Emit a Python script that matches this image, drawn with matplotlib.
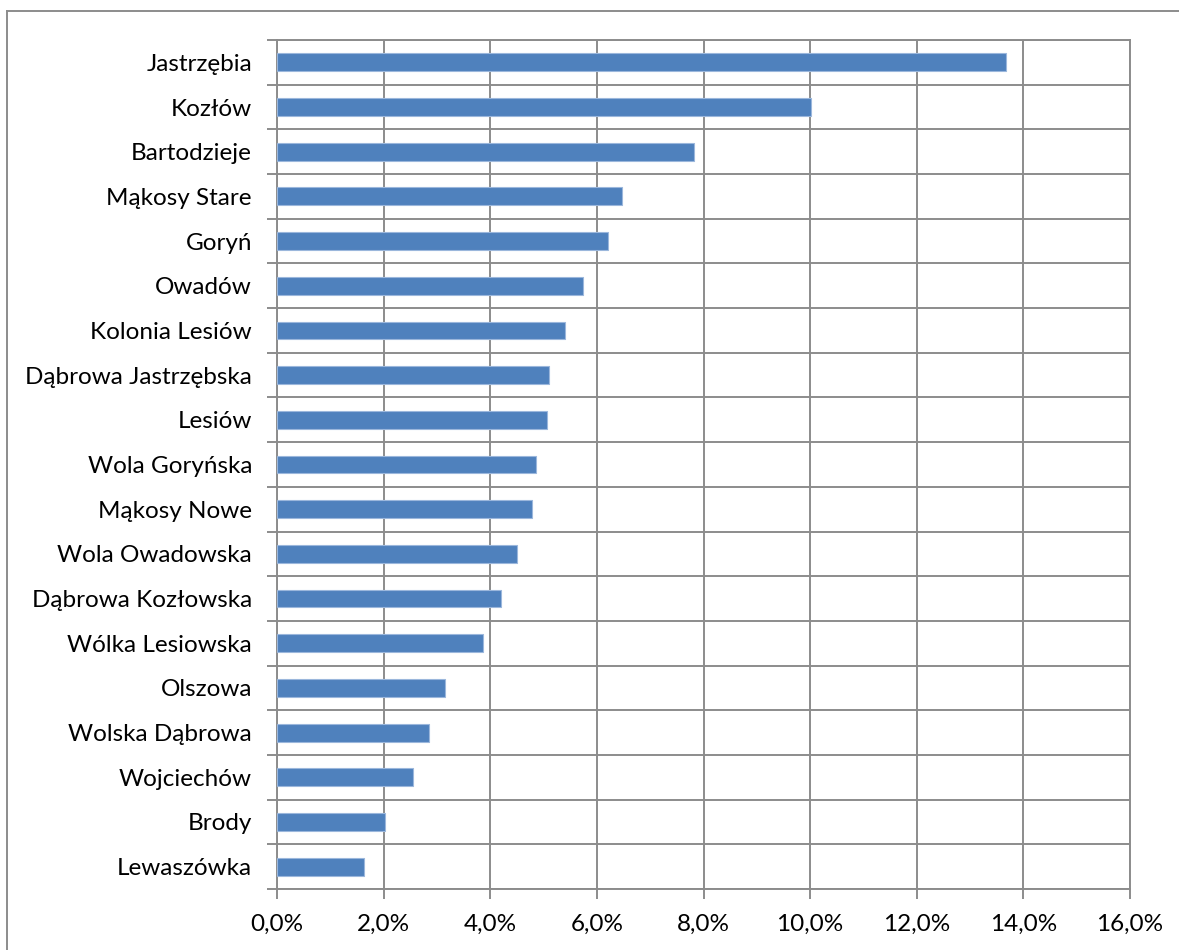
import matplotlib
matplotlib.use("Agg")
import matplotlib.pyplot as plt
from matplotlib.lines import Line2D
from matplotlib.ticker import FuncFormatter, MultipleLocator

# villages, top to bottom, and their share in percent
villages = ["Jastrzębia", "Kozłów", "Bartodzieje", "Mąkosy Stare", "Goryń", "Owadów",
            "Kolonia Lesiów", "Dąbrowa Jastrzębska", "Lesiów", "Wola Goryńska", "Mąkosy Nowe",
            "Wola Owadowska", "Dąbrowa Kozłowska", "Wólka Lesiowska", "Olszowa",
            "Wolska Dąbrowa", "Wojciechów", "Brody", "Lewaszówka"]
share = [13.68, 10.01, 7.83, 6.47, 6.21, 5.74, 5.41, 5.11, 5.06, 4.86, 4.79,
         4.51, 4.21, 3.86, 3.16, 2.86, 2.56, 2.03, 1.63]

BLUE = "#4f81bd"
GRID = "#8c8c8c"

plt.rcParams["font.family"] = ["Lato", "DejaVu Sans"]

fig = plt.figure(figsize=(11.79, 9.5), dpi=100)
ax = fig.add_axes([277 / 1179, 1 - 889 / 950, (1130 - 277) / 1179, (889 - 40) / 950])

ypos = list(range(len(villages)))[::-1]
ax.barh(ypos, share, height=0.4, color=BLUE, edgecolor="#9bb7dc", linewidth=0.8, zorder=3)

ax.set_xlim(0, 16)
ax.set_ylim(-0.5, len(villages) - 0.5)
ax.xaxis.set_major_locator(MultipleLocator(2))
ax.xaxis.set_major_formatter(FuncFormatter(lambda v, p: f"{v:.1f}%".replace(".", ",")))
ax.set_yticks(ypos)
ax.set_yticklabels(villages)
ax.set_yticks([y + 0.5 for y in range(-1, len(villages))], minor=True)

ax.grid(axis="x", which="major", color=GRID, linewidth=1.4, zorder=0)
ax.grid(axis="y", which="minor", color=GRID, linewidth=1.4, zorder=0)
for s in ax.spines.values():
    s.set_color(GRID)
    s.set_linewidth(1.4)

ax.tick_params(axis="x", which="major", length=7, width=1.4, color=GRID, pad=11, labelsize=17.5)
ax.tick_params(axis="y", which="major", length=0, pad=18, labelsize=17.5)
ax.tick_params(axis="y", which="minor", length=7, width=1.4, color=GRID)

# outer chart-area frame (only left and top edges are inside the picture)
fig.add_artist(Line2D([7 / 1179, 7 / 1179], [0, 1 - 10.5 / 950], color=GRID, lw=1.4))
fig.add_artist(Line2D([7 / 1179, 1], [1 - 10.5 / 950, 1 - 10.5 / 950], color=GRID, lw=1.4))

fig.savefig("out.png", dpi=100)
